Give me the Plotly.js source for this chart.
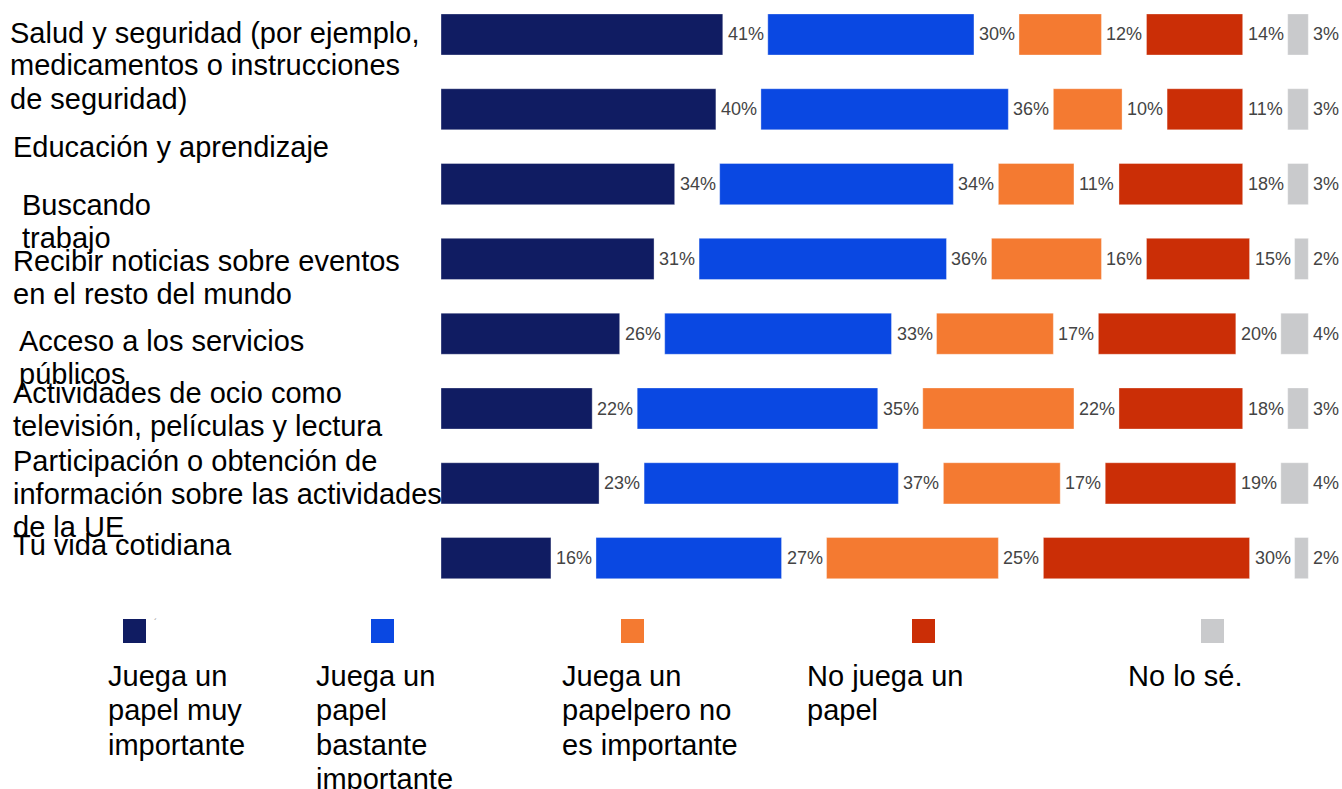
<!DOCTYPE html>
<html>
<head>
<meta charset="utf-8">
<script src="https://cdn.plot.ly/plotly-3.0.1.min.js"></script>
<style>
  html, body { margin: 0; padding: 0; background: #ffffff; }
  #chart { width: 1342px; height: 789px; }
</style>
</head>
<body>
<div id="chart"></div>
<script>
// ---- Data ----
const categories = [
  "Salud y seguridad (por ejemplo,<br>medicamentos o instrucciones<br>de seguridad)",
  "Educación y aprendizaje",
  "Buscando<br>trabajo",
  "Recibir noticias sobre eventos<br>en el resto del mundo",
  "Acceso a los servicios<br>públicos",
  "Actividades de ocio como<br>televisión, películas y lectura",
  "Participación o obtención de<br>información sobre las actividades<br>de la UE",
  "Tu vida cotidiana"
];
const veryImportant   = [41, 40, 34, 31, 26, 22, 23, 16];
const fairlyImportant = [30, 36, 34, 36, 33, 35, 37, 27];
const notImportant    = [12, 10, 11, 16, 17, 22, 17, 25];
const noRole          = [14, 11, 18, 15, 20, 18, 19, 30];
const dontKnow        = [ 3,  3,  3,  2,  4,  3,  4,  2];
const seriesNames = [
  "Juega un<br>papel muy<br>importante",
  "Juega un<br>papel<br>bastante<br>importante",
  "Juega un<br>papelpero no<br>es importante",
  "No juega un<br>papel",
  "No lo sé."
];
const seriesValues = [veryImportant, fairlyImportant, notImportant, noRole, dontKnow];
const colors = ["#101c62", "#0a48e2", "#f47a31", "#cb2e06", "#c9cacc"];

// ---- Layout constants (pixels of the 1342x789 canvas) ----
const W = 1342, H = 789;
const PLOT_L = 441, PLOT_T = 0, PLOT_H = 600;
const PLOT_W = W - PLOT_L;
const GAP = 6.55;          // gap between segments, in % units
const XMAX = 131.1;
const YTOP = -0.461, YBOT = 7.56;

function px2x(px) { return (px - PLOT_L) / PLOT_W; }
function px2y(py) { return 1 - (py - PLOT_T) / PLOT_H; }

const rowIdx = categories.map((_, i) => i);

// ---- Traces ----
const traces = [];
const annotations = [];
const cum = categories.map(() => 0);
seriesValues.forEach((vals, k) => {
  const base = vals.map((v, i) => cum[i] + k * GAP);
  traces.push({
    type: "bar",
    orientation: "h",
    name: seriesNames[k].replace(/<br>/g, " "),
    y: rowIdx,
    x: vals,
    base: base,
    width: 0.55,
    marker: { color: colors[k], line: { color: "rgba(255,255,255,0.35)", width: 1 } },
    hoverinfo: "x+name",
    showlegend: false
  });
  vals.forEach((v, i) => {
    annotations.push({
      xref: "x", yref: "y",
      x: base[i] + v, y: i,
      xanchor: "left", yanchor: "middle",
      xshift: 3,
      text: v + "%",
      showarrow: false,
      font: { family: "'Liberation Sans', Arial, sans-serif", size: 18, color: "#444444" }
    });
    cum[i] += v;
  });
});

// ---- Category labels (placed line by line as in the reference) ----
const catLabelPos = [
  [8, 32.5], [11, 147], [20, 205], [11, 261],
  [17, 341], [11, 393], [11, 461], [11, 545]
];
const CAT_STEP = 33;
const labelFont = { family: "'Liberation Sans', Arial, sans-serif", size: 29, color: "#000000" };
categories.forEach((c, i) => {
  c.split("<br>").forEach((line, j) => {
    annotations.push({
      xref: "paper", yref: "paper",
      x: px2x(catLabelPos[i][0]), y: px2y(catLabelPos[i][1] + j * CAT_STEP),
      xanchor: "left", yanchor: "middle", align: "left",
      text: line, showarrow: false, font: labelFont
    });
  });
});

// ---- Legend (swatches + wrapped labels) ----
const swatchX = [123, 371, 621, 912, 1201];
const legendTextX = [106, 314, 560, 805, 1126];
const LEG_Y0 = 676, LEG_STEP = 34.3;
const shapes = [];
seriesNames.forEach((n, k) => {
  shapes.push({
    type: "rect", xref: "paper", yref: "paper",
    x0: px2x(swatchX[k]), x1: px2x(swatchX[k] + 23),
    y0: px2y(643), y1: px2y(619),
    fillcolor: colors[k], line: { width: 0 }
  });
  n.split("<br>").forEach((line, j) => {
    annotations.push({
      xref: "paper", yref: "paper",
      x: px2x(legendTextX[k]), y: px2y(LEG_Y0 + j * LEG_STEP),
      xanchor: "left", yanchor: "middle", align: "left",
      text: line, showarrow: false, font: labelFont
    });
  });
});
annotations.push({
  xref: "paper", yref: "paper", x: px2x(155), y: px2y(622),
  xanchor: "center", yanchor: "middle", text: "´", showarrow: false,
  font: { family: "'Liberation Sans', Arial, sans-serif", size: 9, color: "#888888" }
});

const layout = {
  width: W, height: H,
  margin: { l: PLOT_L, r: 0, t: PLOT_T, b: H - PLOT_H - PLOT_T, pad: 0 },
  paper_bgcolor: "#ffffff",
  plot_bgcolor: "#ffffff",
  barmode: "overlay",
  showlegend: false,
  xaxis: { range: [0, XMAX], visible: false, fixedrange: true },
  yaxis: { range: [YBOT, YTOP], visible: false, fixedrange: true },
  annotations: annotations,
  shapes: shapes
};

Plotly.newPlot("chart", traces, layout, { displayModeBar: false, staticPlot: true });
</script>
</body>
</html>
